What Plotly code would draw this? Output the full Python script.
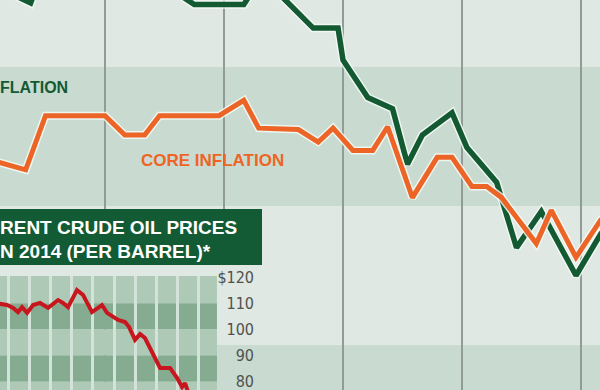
import plotly.graph_objects as go

# ---------------- data ----------------
# main chart: x = months (0 = first year gridline), y = % inflation
infl_month = [-11, -7.5, -6.5, -3, 2, 6, 9, 14, 15, 17.5, 21, 23.5, 24, 26.5, 29,
              30.5, 32, 35, 36.5, 39.5, 41.5, 44, 47.5, 50, 51]
infl_value = [3.58, 3.46, 3.65, 3.8, 3.75, 3.59, 3.45, 3.45, 3.56, 3.53, 3.28, 3.28,
              3.05, 2.78, 2.70, 2.30, 2.51, 2.67, 2.42, 2.17, 1.70, 1.96, 1.50, 1.80, 1.88]

core_month = [-11, -8, -6, 0, 2, 4, 5.5, 11.5, 14, 15.5, 19.5, 21.5, 23, 25, 27, 28.5,
              31, 33.5, 35, 37, 38.5, 40, 43.5, 45, 47.5, 50, 51]
core_value = [2.32, 2.26, 2.65, 2.65, 2.51, 2.51, 2.65, 2.65, 2.76, 2.56, 2.55, 2.46,
              2.56, 2.40, 2.40, 2.57, 2.06, 2.35, 2.35, 2.14, 2.14, 2.06, 1.73, 1.97,
              1.63, 1.90, 1.97]

# inset: Brent crude 2014, x = month of year, y = $ per barrel
brent_month = [1.34, 1.95, 2.24, 2.47, 2.66, 2.90, 3.18, 3.51, 3.89, 4.36, 4.59, 4.83,
               5.25, 5.54, 5.96, 6.20, 6.43, 6.67, 6.95, 7.19, 7.52, 7.71, 7.99, 8.23,
               8.46, 8.84, 9.17, 9.64, 9.97, 10.21, 10.35, 10.59, 11.0]
brent_price = [110.1, 109.3, 108.2, 106.6, 108.5, 106.3, 109.3, 110.1, 108.2, 111.2,
               110.1, 108.5, 115.0, 113.1, 106.6, 108.2, 109.3, 106.3, 104.7, 103.6,
               102.8, 100.9, 96.0, 98.2, 96.7, 91.0, 85.3, 85.3, 81.5, 78.0, 79.5,
               73.8, 68.0]

price_ticks = [120, 110, 100, 90, 80]
price_tick_labels = ["$120", "110", "100", "90", "80"]
inset_grid_months = [2, 3, 4, 5, 6, 7, 8, 9, 10, 11]

# texts as they appear in the (cropped) picture
inset_title_1 = "RENT CRUDE OIL PRICES"
inset_title_2 = "N 2014 (PER BARREL)*"
label_infl = "FLATION"
label_core = "CORE INFLATION"

# ---------------- styling ----------------
LIGHT = "#dfe8e2"
DARK = "#c9dbd0"
GREEN = "#135a33"
ORANGE = "#ec6526"
RED = "#c8161f"
BOX = "#135b35"
IN_LIGHT = "#aecab6"
IN_DARK = "#85ac91"
HALO = "rgba(245,250,246,0.85)"
BOLD = "Liberation Sans, Arial, sans-serif"

X_RANGE = [-10.59, 49.92]
Y_RANGE = [0.676, 3.482]
X2_RANGE = [1.62, 13.98]
Y2_RANGE = [76.87, 145.95]
INSET_RIGHT = 11.856     # right edge of inset plotting panel (x2 units)
INSET_TOP = 120.4        # top of inset plotting panel (y2 units)
BOX_BOTTOM = 124.58
COL_SPLIT = 94.05

fig = go.Figure()

# main lines with light halo
fig.add_trace(go.Scatter(x=infl_month, y=infl_value, mode="lines",
                         line=dict(color=HALO, width=8.5), hoverinfo="skip"))
fig.add_trace(go.Scatter(x=infl_month, y=infl_value, mode="lines",
                         line=dict(color=GREEN, width=5.5)))
fig.add_trace(go.Scatter(x=core_month, y=core_value, mode="lines",
                         line=dict(color=HALO, width=8), hoverinfo="skip"))
fig.add_trace(go.Scatter(x=core_month, y=core_value, mode="lines",
                         line=dict(color=ORANGE, width=5)))

# inset line
fig.add_trace(go.Scatter(x=brent_month, y=brent_price, mode="lines",
                         line=dict(color=RED, width=4), xaxis="x2", yaxis="y2"))

shapes = []
# main background bands
for y0, y1, c in [(3, 4, LIGHT), (2, 3, DARK), (1, 2, LIGHT), (0, 1, DARK)]:
    shapes.append(dict(type="rect", xref="paper", yref="y", x0=0, x1=1, y0=y0, y1=y1,
                       fillcolor=c, line_width=0, layer="below"))
# inset plotting bands
for y0, y1, c in [(110, INSET_TOP, IN_LIGHT), (100, 110, IN_DARK), (90, 100, IN_LIGHT),
                  (80, 90, IN_DARK), (60, 80, IN_LIGHT)]:
    shapes.append(dict(type="rect", xref="x2", yref="y2", x0=0, x1=INSET_RIGHT,
                       y0=y0, y1=y1, fillcolor=c, line_width=0, layer="below"))
# label column of inset
shapes.append(dict(type="rect", xref="x2", yref="y2", x0=INSET_RIGHT, x1=20,
                   y0=COL_SPLIT, y1=200, fillcolor=LIGHT, line_width=0, layer="below"))
shapes.append(dict(type="rect", xref="x2", yref="y2", x0=INSET_RIGHT, x1=20,
                   y0=60, y1=COL_SPLIT, fillcolor=DARK, line_width=0, layer="below"))
# gap strip and title box
shapes.append(dict(type="rect", xref="x2", yref="y2", x0=0, x1=20,
                   y0=INSET_TOP, y1=BOX_BOTTOM, fillcolor=LIGHT, line_width=0,
                   layer="between"))
shapes.append(dict(type="rect", xref="x2", yref="y2", x0=0, x1=20,
                   y0=BOX_BOTTOM, y1=200, fillcolor=BOX, line_width=0,
                   layer="between"))

annotations = [
    dict(text=label_infl, xref="paper", yref="paper", x=-0.004, y=0.7756,
         xanchor="left", yanchor="middle", showarrow=False,
         font=dict(family=BOLD, size=16, color=GREEN, weight="bold")),
    dict(text=label_core, xref="paper", yref="paper", x=0.3542, y=0.5897,
         xanchor="center", yanchor="middle", showarrow=False,
         font=dict(family=BOLD, size=17, color=ORANGE, weight="bold")),
    dict(text=inset_title_1, xref="paper", yref="paper", x=-0.004, y=0.4154,
         xanchor="left", yanchor="middle", showarrow=False,
         font=dict(family=BOLD, size=19, color="white", weight="bold")),
    dict(text=inset_title_2, xref="paper", yref="paper", x=-0.004, y=0.3564,
         xanchor="left", yanchor="middle", showarrow=False,
         font=dict(family=BOLD, size=19, color="white", weight="bold")),
]

fig.update_layout(
    width=600, height=390,
    margin=dict(l=0, r=0, t=0, b=0),
    paper_bgcolor=LIGHT, plot_bgcolor="rgba(0,0,0,0)",
    showlegend=False,
    shapes=shapes, annotations=annotations,
    xaxis=dict(domain=[0, 1], range=X_RANGE, tick0=0, dtick=12, showgrid=True,
               gridcolor="#909c95", gridwidth=2.2, zeroline=False,
               showticklabels=False, ticks=""),
    yaxis=dict(domain=[0, 1], range=Y_RANGE, showgrid=False, zeroline=False,
               showticklabels=False, ticks=""),
    xaxis2=dict(domain=[0, 262 / 600], anchor="y2", range=X2_RANGE,
                tickmode="array", tickvals=inset_grid_months, showgrid=True,
                gridcolor="#d4e3d9", gridwidth=3, zeroline=False,
                showticklabels=False, ticks=""),
    yaxis2=dict(domain=[0, 181 / 390], anchor="free", position=254 / 600, side="left",
                range=Y2_RANGE, tickmode="array", tickvals=price_ticks,
                ticktext=price_tick_labels, showgrid=False, zeroline=False, ticks="",
                ticklabeloverflow="allow",
                tickfont=dict(family="Liberation Sans Narrow, DejaVu Sans Condensed, sans-serif",
                              size=16, color="#4f524f")),
)

fig.write_html("out.html", config={"displayModeBar": False, "staticPlot": True},
               post_script="document.body.style.margin='0';document.body.style.overflow='hidden';")
